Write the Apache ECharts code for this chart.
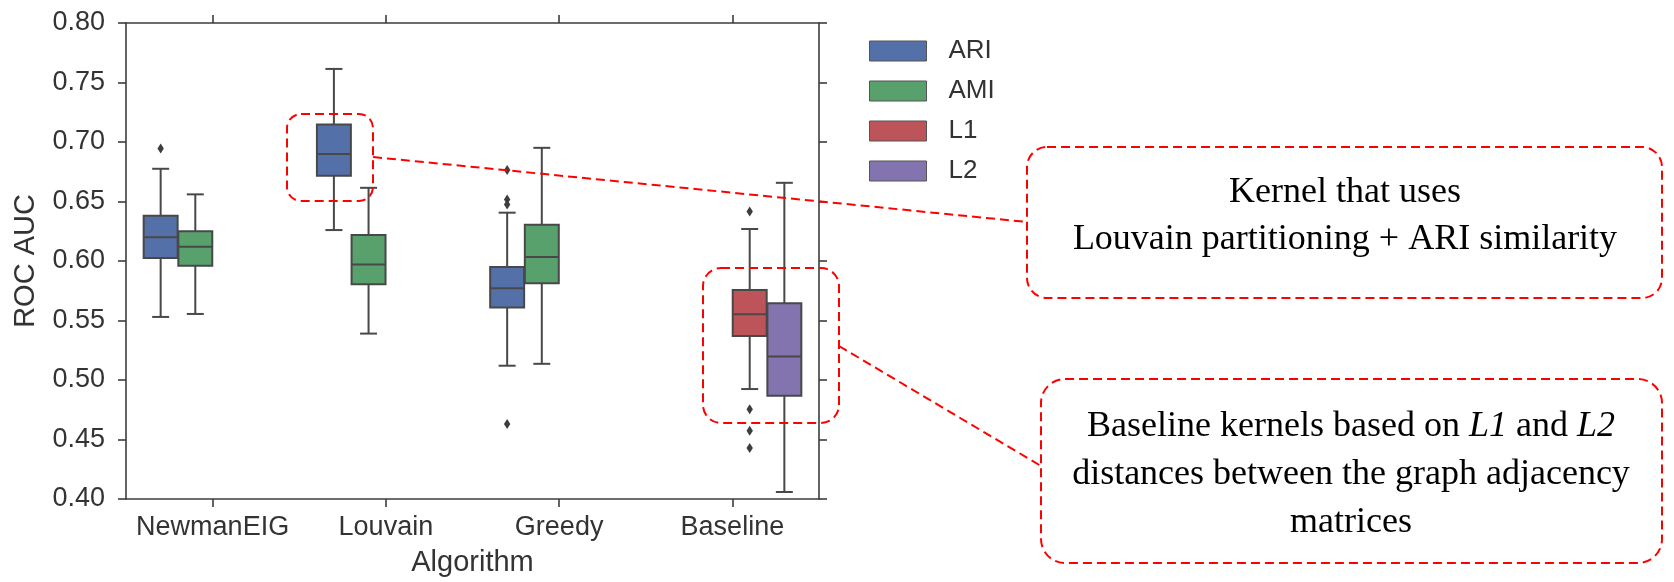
<!DOCTYPE html>
<html>
<head>
<meta charset="utf-8">
<script src="https://cdn.jsdelivr.net/npm/echarts@6/dist/echarts.min.js"></script>
<style>
  html, body { margin: 0; padding: 0; background: #fff; }
  #chart { width: 1674px; height: 582px; }
</style>
</head>
<body>
<div id="chart"></div>
<script>
// data
const categories = ['NewmanEIG', 'Louvain', 'Greedy', 'Baseline']
const hues = ['ARI', 'AMI', 'L1', 'L2']
const hueColors = ['#5470a8', '#58a06c', '#bc5459', '#8373ae']

// [low whisker, Q1, median, Q3, high whisker] per category, null = no box
const ariStats = [
  [0.553, 0.6025, 0.620, 0.638, 0.6775],
  [0.626, 0.6716, 0.690, 0.7147, 0.7614],
  [0.512, 0.561, 0.577, 0.595, 0.6406],
  null
]
const amiStats = [
  [0.5555, 0.596, 0.612, 0.625, 0.656],
  [0.539, 0.5804, 0.597, 0.6218, 0.6615],
  [0.5136, 0.5813, 0.6034, 0.6305, 0.6951],
  null
]
const l1Stats = [null, null, null, [0.4924, 0.537, 0.5552, 0.5756, 0.6269]]
const l2Stats = [null, null, null, [0.4059, 0.4867, 0.5197, 0.5645, 0.6657]]

// outliers: [category index, value]
const ariOutliers = [[0, 0.6945], [2, 0.6764], [2, 0.6517], [2, 0.6475], [2, 0.463]]
const amiOutliers = []
const l1Outliers = [[3, 0.6417], [3, 0.4755], [3, 0.4573], [3, 0.4428]]
const l2Outliers = []

const yTicks = { min: 0.40, max: 0.80, step: 0.05 }

const allStats = [ariStats, amiStats, l1Stats, l2Stats]
const allOutliers = [ariOutliers, amiOutliers, l1Outliers, l2Outliers]

const lineColor = '#484848'
const axisColor = '#3d3d3d'
const labelColor = '#333'
const sansFont = '"Liberation Sans", Arial, sans-serif'
const serifFont = '"Liberation Serif", "Times New Roman", serif'

// seaborn-style dodge: each hue gets 0.8/n of the band
const hueCenter = (api, cat, hueIdx) => {
  const band = api.size([1, 0])[0]
  const slot = band * 0.8 / hues.length
  const x = api.coord([cat, yTicks.min])[0] + (hueIdx - (hues.length - 1) / 2) * slot
  return { x, w: slot * 0.98 }
}

const boxRenderer = (hueIdx) => (params, api) => {
  const cat = api.value(0)
  const { x, w } = hueCenter(api, cat, hueIdx)
  const y = (i) => api.coord([cat, api.value(i)])[1]
  const yLow = y(1), yQ1 = y(2), yMed = y(3), yQ3 = y(4), yHigh = y(5)
  const stroke = { stroke: lineColor, lineWidth: 2 }
  const line = (x1, y1, x2, y2) => ({ type: 'line', shape: { x1, y1, x2, y2 }, style: stroke })
  return {
    type: 'group',
    children: [
      line(x, yQ1, x, yLow),
      line(x, yQ3, x, yHigh),
      line(x - w / 4, yLow, x + w / 4, yLow),
      line(x - w / 4, yHigh, x + w / 4, yHigh),
      {
        type: 'rect',
        shape: { x: x - w / 2, y: yQ3, width: w, height: yQ1 - yQ3 },
        style: { fill: api.visual('color'), stroke: lineColor, lineWidth: 2 }
      },
      line(x - w / 2, yMed, x + w / 2, yMed)
    ]
  }
}

const outlierRenderer = (hueIdx) => (params, api) => {
  const cat = api.value(0)
  const { x } = hueCenter(api, cat, hueIdx)
  const y = api.coord([cat, api.value(1)])[1]
  return {
    type: 'polygon',
    shape: { points: [[x, y - 5], [x + 3.2, y], [x, y + 5], [x - 3.2, y]] },
    style: { fill: '#3d3d3d' }
  }
}

const boxSeries = hues.map((name, i) => ({
  name,
  type: 'custom',
  renderItem: boxRenderer(i),
  itemStyle: { color: hueColors[i] },
  encode: { x: 0, y: [1, 2, 3, 4, 5] },
  data: allStats[i]
    .map((s, c) => (s ? [c].concat(s) : null))
    .filter(Boolean),
  z: 3
}))

const outlierSeries = hues.map((name, i) => ({
  name: name + ' outliers',
  type: 'custom',
  renderItem: outlierRenderer(i),
  encode: { x: 0, y: 1 },
  data: allOutliers[i],
  z: 4
}))

const axisLine = { show: true, lineStyle: { color: axisColor, width: 1.6 } }
const axisTick = { show: true, length: 8, lineStyle: { color: axisColor, width: 1.6 } }

const dashed = { fill: 'none', stroke: '#ff0000', lineWidth: 2, lineDash: [9, 5] }
const noteText = (text, x, y) => ({
  type: 'text',
  x, y,
  style: {
    text,
    fontFamily: serifFont,
    fontSize: 36,
    fill: '#000',
    align: 'center',
    verticalAlign: 'middle'
  }
})

const chart = echarts.init(document.getElementById('chart'), null, { renderer: 'canvas' })

chart.setOption({
  backgroundColor: '#fff',
  animation: false,
  color: hueColors,
  grid: { left: 126, right: 855, top: 23, bottom: 82 },
  legend: {
    data: hues,
    orient: 'vertical',
    left: 864,
    top: 33,
    icon: 'rect',
    itemWidth: 57,
    itemHeight: 20,
    itemGap: 14,
    itemStyle: { borderColor: '#555', borderWidth: 1 },
    textStyle: { fontFamily: sansFont, fontSize: 26, color: labelColor, padding: [0, 0, 0, 17] }
  },
  xAxis: [
    {
      type: 'category',
      data: categories,
      name: 'Algorithm',
      nameLocation: 'middle',
      nameGap: 49,
      nameTextStyle: { fontFamily: sansFont, fontSize: 29, color: labelColor },
      axisLine,
      axisTick: { ...axisTick, alignWithLabel: true },
      axisLabel: { interval: 0, fontFamily: sansFont, fontSize: 27, color: labelColor, margin: 15 },
      splitLine: { show: false }
    },
    {
      type: 'category',
      data: categories,
      position: 'top',
      axisLine,
      axisTick: { ...axisTick, alignWithLabel: true },
      axisLabel: { show: false },
      splitLine: { show: false }
    }
  ],
  yAxis: [
    {
      type: 'value',
      min: yTicks.min,
      max: yTicks.max,
      interval: yTicks.step,
      name: 'ROC AUC',
      nameLocation: 'middle',
      nameGap: 86,
      nameTextStyle: { fontFamily: sansFont, fontSize: 29, color: labelColor },
      axisLine,
      axisTick,
      axisLabel: {
        fontFamily: sansFont, fontSize: 27, color: labelColor, margin: 21,
        formatter: (v) => v.toFixed(2)
      },
      splitLine: { show: false }
    },
    {
      type: 'value',
      min: yTicks.min,
      max: yTicks.max,
      interval: yTicks.step,
      position: 'right',
      axisLine,
      axisTick,
      axisLabel: { show: false },
      splitLine: { show: false }
    }
  ],
  series: boxSeries.concat(outlierSeries),
  graphic: [
    // highlight around Louvain / ARI
    { type: 'rect', shape: { x: 287, y: 114, width: 86, height: 87, r: 14 }, style: dashed, z: 10 },
    // highlight around Baseline L1 / L2
    { type: 'rect', shape: { x: 703, y: 268, width: 136, height: 155, r: 18 }, style: dashed, z: 10 },
    { type: 'line', shape: { x1: 373, y1: 157, x2: 1027, y2: 222 }, style: dashed, z: 10 },
    { type: 'line', shape: { x1: 839, y1: 346, x2: 1041, y2: 466 }, style: dashed, z: 10 },
    // callout boxes
    { type: 'rect', shape: { x: 1027, y: 147, width: 635, height: 151, r: 20 }, style: dashed, z: 10 },
    { type: 'rect', shape: { x: 1041, y: 379, width: 621, height: 184, r: 24 }, style: dashed, z: 10 },
    noteText('Kernel that uses', 1345, 193),
    noteText('Louvain partitioning + ARI similarity', 1345, 240),
    {
      type: 'text',
      x: 1351,
      y: 427,
      style: {
        text: '{n|Baseline kernels based on }{i|L1}{n| and }{i|L2}',
        align: 'center',
        verticalAlign: 'middle',
        rich: {
          n: { fontFamily: serifFont, fontSize: 36, fill: '#000', color: '#000' },
          i: { fontFamily: serifFont, fontSize: 36, fontStyle: 'italic', fill: '#000', color: '#000' }
        }
      }
    },
    noteText('distances between the graph adjacency', 1351, 475),
    noteText('matrices', 1351, 523)
  ]
})
</script>
</body>
</html>
